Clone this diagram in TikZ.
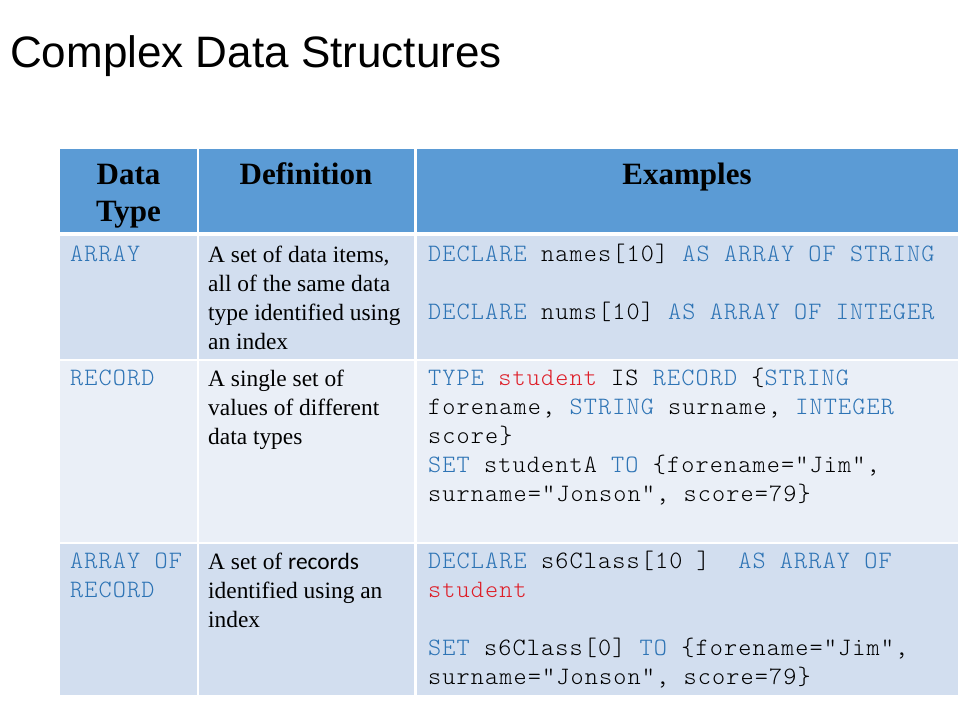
\documentclass[tikz,border=0pt]{standalone}
\usepackage{fontspec}
\setmainfont{Liberation Serif}
\newfontfamily\titlefont{Liberation Sans}
\newfontfamily\codefont{Latin Modern Mono Light}[LetterSpace=4.5]
\newfontfamily\calfont{Carlito}
\definecolor{hdrblue}{RGB}{91,155,213}
\definecolor{rowA}{RGB}{210,222,239}
\definecolor{rowB}{RGB}{234,239,247}
\definecolor{kwblue}{RGB}{46,116,181}
\definecolor{nmred}{RGB}{222,30,40}
\newcommand{\kwd}[1]{\textcolor{kwblue}{#1}}
\newcommand{\nmd}[1]{\textcolor{nmred}{#1}}
\tikzset{
  cell/.style={anchor=north west, inner sep=0pt, align=left},
  codetext/.style={cell, font=\codefont\fontsize{25}{29}\selectfont},
  deftext/.style={cell, font=\fontsize{23.4}{29}\selectfont},
  hdrtext/.style={anchor=north, inner sep=0pt, align=center, font=\bfseries\fontsize{31}{37}\selectfont},
  sep/.style={white, line width=2pt},
}
\begin{document}
\begin{tikzpicture}[x=1pt,y=-1pt]
\fill[white] (0,0) rectangle (960,720);
\useasboundingbox (0,0) rectangle (960,720);
% title
\node[anchor=base west, inner sep=0pt, font=\titlefont\fontsize{44}{50}\selectfont] (title) at (10,67) {Complex Data Structures};
% table fills
\fill[hdrblue] (60,149) rectangle (958,234);
\fill[rowA] (60,234) rectangle (958,359.5);
\fill[rowB] (60,359.5) rectangle (958,542.5);
\fill[rowA] (60,542.5) rectangle (958,695);
% white borders
\draw[white, line width=3.5pt] (60,234) -- (958,234);
\draw[sep] (60,359.5) -- (958,359.5);
\draw[sep] (60,542.5) -- (958,542.5);
\draw[white, line width=2.5pt] (198,149) -- (198,695);
\draw[white, line width=2.5pt] (415.5,149) -- (415.5,695);
% header
\node[hdrtext] (h1) at (128.5,159) {\rule{0pt}{25pt}Data\\Type};
\node[hdrtext] (h2) at (306,159) {\rule{0pt}{25pt}Definition};
\node[hdrtext] (h3) at (687,159) {\rule{0pt}{25pt}Examples};
% row 1
\node[codetext] (t1) at (70,241) {\rule{0pt}{20pt}\kwd{ARRAY}};
\node[deftext] (d1) at (208,242) {\rule{0pt}{20pt}A set of data items,\\all of the same data\\type identified using\\an index};
\node[codetext] (e1) at (428,241) {\rule{0pt}{20pt}\kwd{DECLARE} names[10] \kwd{AS ARRAY OF STRING}\\[29pt]\kwd{DECLARE} nums[10] \kwd{AS ARRAY OF INTEGER}};
% row 2
\node[codetext] (t2) at (70,365) {\rule{0pt}{20pt}\kwd{RECORD}};
\node[deftext] (d2) at (208,366) {\rule{0pt}{20pt}A single set of\\values of different\\data types};
\node[codetext] (e2) at (428,365) {\rule{0pt}{20pt}\kwd{TYPE} \nmd{student} IS \kwd{RECORD} \{\kwd{STRING}\\forename, \kwd{STRING} surname, \kwd{INTEGER}\\score\}\\\kwd{SET} studentA \kwd{TO} \{forename="Jim",\\surname="Jonson", score=79\}};
% row 3
\node[codetext] (t3) at (70,548) {\rule{0pt}{20pt}\kwd{ARRAY OF}\\\kwd{RECORD}};
\node[deftext] (d3) at (208,549) {\rule{0pt}{20pt}A set of {\calfont records}\\identified using an\\index};
\node[codetext] (e3) at (428,548) {\rule{0pt}{20pt}\kwd{DECLARE} s6Class[10 ]\ \ \kwd{AS ARRAY OF}\\\nmd{student}\\[29pt]\kwd{SET} s6Class[0] \kwd{TO} \{forename="Jim",\\surname="Jonson", score=79\}};
\end{tikzpicture}
\end{document}
